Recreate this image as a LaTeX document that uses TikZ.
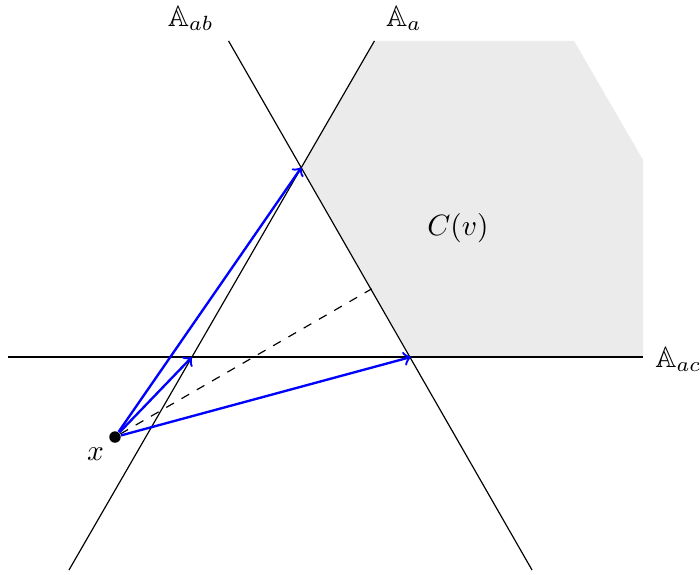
\documentclass[tikz,border=0pt]{standalone}
\usepackage{amsmath}
\usepackage{amssymb}
\usepackage{xcolor}
\usepackage{tikz}
\usetikzlibrary{positioning}
\definecolor{cellGray}{HTML}{EBEBEB}

\begin{document}
\begin{tikzpicture}[
    x=1.31cm, y=1.31cm,
    wall/.style={draw=black, line width=0.4pt},
    probe/.style={->, draw=blue, line width=0.8pt},
    perp/.style={draw=black, dashed, line width=0.4pt},
    dot/.style={circle, fill=black, inner sep=0pt, minimum size=3.9pt},
    lbl/.style={inner sep=1pt},
]
\useasboundingbox (-1.753,-1.982) rectangle (4.639,3.260);

%% =================================================================
%% Triangle corners and wall ends
%% =================================================================
\coordinate (L) at (0, 0);
\coordinate (R) at (2, 0);
\coordinate (T) at (1, 1.732);
\coordinate (aTop) at (1.666, 2.886);
\coordinate (aBot) at (-1.123, -1.945);
\coordinate (abTop) at (0.334, 2.886);
\coordinate (abBot) at (3.105, -1.945);
\coordinate (acL) at (-1.68, 0);
\coordinate (acR) at (4.119, 0);
\coordinate (foot) at (1.641, 0.622);

%% =================================================================
%% Cell C(v) (shaded)
%% =================================================================
\fill[cellGray] (aTop) -- (3.489, 2.886) -- (4.119, 1.799) -- (acR)
    -- (R) -- (T) -- cycle;
\node at (2.429, 1.178) (cv) {$C(v)$};

%% =================================================================
%% Walls
%% =================================================================
\draw[wall] (aBot) -- (aTop);
\draw[wall] (abTop) -- (abBot);
\draw[wall] (acL) -- (acR);

\node[lbl] (la) at (1.935, 3.09) {$\mathbb{A}_a$};
\node[lbl] (lab) at (-0.01, 3.09) {$\mathbb{A}_{ab}$};
\node[lbl, right=3pt of acR, yshift=-0.8pt] (lac) {$\mathbb{A}_{ac}$};

%% =================================================================
%% Point x and probes
%% =================================================================
\node[dot] (x) at (-0.703, -0.731) {};
\node (lx) at (-0.88, -0.89) {$x$};

\draw[perp] (x) -- (foot);
\draw[probe] (x) -- (L);
\draw[probe] (x) -- (T);
\draw[probe] (x) -- (R);

\end{tikzpicture}
\end{document}
